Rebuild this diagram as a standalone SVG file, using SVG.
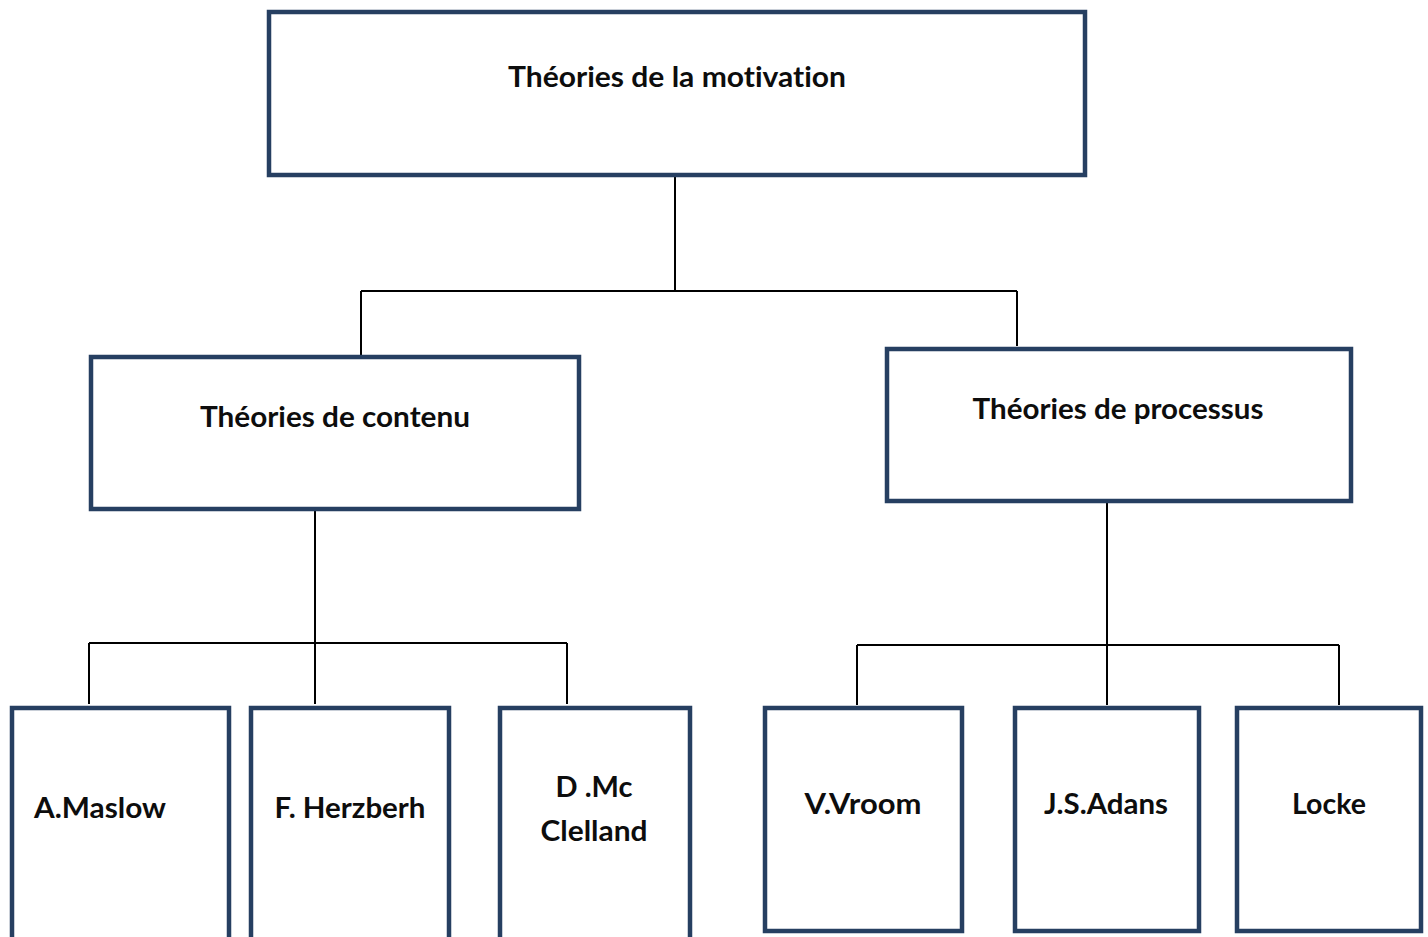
<svg xmlns="http://www.w3.org/2000/svg" width="1428" height="937" viewBox="0 0 1428 937">
<style>
.box{fill:#ffffff;stroke:#263f61;stroke-width:4.5}
.lbl{font-family:Lato,"Liberation Sans",sans-serif;font-weight:bold;font-size:28px;fill:#0d0d0d;text-anchor:middle;font-variant-ligatures:none;font-feature-settings:"liga" 0}
.con{fill:none;stroke:#000000;stroke-width:2}
</style>
<rect width="1428" height="937" fill="#ffffff"/>
<g id="connectors">
<path class="con" d="M675,177 V291 M361,291 H1017 M361,291 V355 M1017,291 V346"/>
<path class="con" d="M315,510 V643 M89,643 H567 M89,643 V704 M315,643 V704 M567,643 V704"/>
<path class="con" d="M1107,502 V645 M857,645 H1339 M857,645 V705 M1107,645 V705 M1339,645 V705"/>
</g>
<g id="node-motivation">
<rect class="box" x="269" y="12" width="816" height="163"/>
<text class="lbl" x="677" y="87" textLength="338" lengthAdjust="spacingAndGlyphs">Théories de la motivation</text>
</g>
<g id="node-contenu">
<rect class="box" x="91" y="357" width="488" height="152"/>
<text class="lbl" x="335" y="427" textLength="270" lengthAdjust="spacingAndGlyphs">Théories de contenu</text>
</g>
<g id="node-processus">
<rect class="box" x="887" y="349" width="464" height="152"/>
<text class="lbl" x="1118" y="419" textLength="291" lengthAdjust="spacingAndGlyphs">Théories de processus</text>
</g>
<g id="node-maslow">
<rect class="box" x="12" y="708" width="217" height="260"/>
<text class="lbl" x="100" y="818" textLength="132" lengthAdjust="spacingAndGlyphs">A.Maslow</text>
</g>
<g id="node-herzberh">
<rect class="box" x="251" y="708" width="198" height="260"/>
<text class="lbl" x="350" y="818" textLength="151" lengthAdjust="spacingAndGlyphs">F. Herzberh</text>
</g>
<g id="node-mcclelland">
<rect class="box" x="500" y="708" width="190" height="260"/>
<text class="lbl" x="594" y="797" textLength="77" lengthAdjust="spacingAndGlyphs">D .Mc</text>
<text class="lbl" x="594" y="841" textLength="107" lengthAdjust="spacingAndGlyphs">Clelland</text>
</g>
<g id="node-vroom">
<rect class="box" x="765" y="708" width="197" height="223"/>
<text class="lbl" x="863" y="814" textLength="117" lengthAdjust="spacingAndGlyphs">V.Vroom</text>
</g>
<g id="node-adans">
<rect class="box" x="1015" y="708" width="184" height="223"/>
<text class="lbl" x="1106" y="814" textLength="124" lengthAdjust="spacingAndGlyphs">J.S.Adans</text>
</g>
<g id="node-locke">
<rect class="box" x="1237" y="708" width="184" height="223"/>
<text class="lbl" x="1329" y="814" textLength="74" lengthAdjust="spacingAndGlyphs">Locke</text>
</g>
</svg>
